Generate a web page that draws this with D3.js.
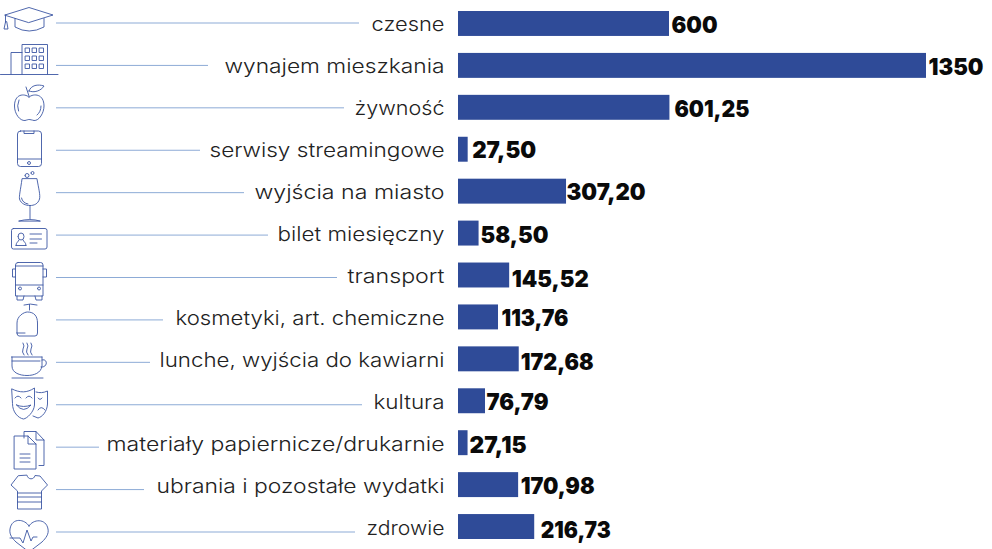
<!DOCTYPE html>
<html>
<head>
<meta charset="utf-8">
<script src="https://cdn.jsdelivr.net/npm/d3@7"></script>
<style>
  html, body { margin: 0; background: #fff; }
  svg { display: block; }
  .label { font-family: Inter, "Noto Sans", sans-serif; font-weight: 300; font-size: 19.5px; fill: #222; }
  .value { font-family: Inter, "Noto Sans", sans-serif; font-weight: 900; font-size: 23px; fill: #0a0a0a; }
  .icon * { fill: none; stroke: #3c57a4; stroke-width: 0.9; stroke-linejoin: round; stroke-linecap: round; }
</style>
</head>
<body>
<svg id="chart" width="992" height="549"></svg>
<script>
const categories = ['czesne', 'wynajem mieszkania', 'żywność', 'serwisy streamingowe', 'wyjścia na miasto',
    'bilet miesięczny', 'transport', 'kosmetyki, art. chemiczne', 'lunche, wyjścia do kawiarni', 'kultura',
    'materiały papiernicze/drukarnie', 'ubrania i pozostałe wydatki', 'zdrowie'];
const values = [600, 1350, 601.25, 27.5, 307.2, 58.5, 145.52, 113.76, 172.68, 76.79, 27.15, 170.98, 216.73];
const valueLabels = ['600', '1350', '601,25', '27,50', '307,20', '58,50', '145,52', '113,76', '172,68', '76,79', '27,15', '170,98', '216,73'];

// the labels in the original were placed by hand, so these are per row
const valueGap = [2.5, 2.5, 5, 4.5, 0.5, 2, 2.5, 3.5, 2, 1.5, 2, 2.5, 6.5];
const valueDy = [1, 1.5, 1.5, 0, 0, 1.5, 3, 1, 3, 1, 2, 1, 3];
const valueWidth = [46, 55, 75, 64, 79, 68, 77, 67, 73, 62, 57, 74, 70];
const labelWidth = [73, 220, 90, 235, 190, 167, 97, 269, 285, 71, 338, 288, 78];
const lineEnd = [359, 208, 344, 200, 244, 268, 337, 163, 150, 362, 99, 144, 355];

const svg = d3.select('#chart');

// piecewise because the bars are not quite proportional in the picture
const x = d3.scaleLinear().domain([0, 600, 1350]).range([458, 669, 926]);
const y = d3.scaleBand().domain(categories).range([11, 539]).paddingInner(0.405);
const rowY = d3.scalePoint().domain(categories).range([23, 532]);

svg.selectAll('rect.bar')
    .data(categories)
    .enter()
    .append('rect')
    .attr('class', 'bar')
    .attr('x', x(0))
    .attr('y', d => y(d))
    .attr('width', (d, i) => x(values[i]) - x(0))
    .attr('height', y.bandwidth())
    .attr('fill', '#2f4b98');

svg.selectAll('text.value')
    .data(categories)
    .enter()
    .append('text')
    .attr('class', 'value')
    .attr('x', (d, i) => x(values[i]) + valueGap[i])
    .attr('y', (d, i) => y(d) + y.bandwidth() / 2 + 8.5 + valueDy[i])
    .attr('textLength', (d, i) => valueWidth[i])
    .attr('lengthAdjust', 'spacingAndGlyphs')
    .text((d, i) => valueLabels[i]);

svg.selectAll('text.label')
    .data(categories)
    .enter()
    .append('text')
    .attr('class', 'label')
    .attr('x', 444.5)
    .attr('y', d => y(d) + y.bandwidth() / 2 + 8)
    .attr('text-anchor', 'end')
    .attr('textLength', (d, i) => labelWidth[i])
    .attr('lengthAdjust', 'spacingAndGlyphs')
    .text(d => d);

svg.selectAll('line.leader')
    .data(categories)
    .enter()
    .append('line')
    .attr('class', 'leader')
    .attr('x1', 56)
    .attr('x2', (d, i) => lineEnd[i])
    .attr('y1', d => rowY(d))
    .attr('y2', d => rowY(d))
    .attr('stroke', '#8dabd6')
    .attr('stroke-width', 1);

// outline icons, one group of paths per row
const icons = [
    ['M5 15L29 7.5L53 15L29 22.5Z', 'M15 18.5V27Q29 35 44 27V18.5', 'M5.5 15V22', 'M5.5 22L4 29H8L6.8 22Z'],
    ['M0.5 74.5H58', 'M22 74V44.5H47.5V74', 'M22 52.5H11V74',
     'M25.5 48h4v4.5h-4z', 'M32.5 48h4v4.5h-4z', 'M39.5 48h4v4.5h-4z',
     'M25.5 56h4v4.5h-4z', 'M32.5 56h4v4.5h-4z', 'M39.5 56h4v4.5h-4z',
     'M25.5 64h4v4.5h-4z', 'M32.5 64h4v4.5h-4z', 'M39.5 64h4v4.5h-4z'],
    ['M29 97C24 93 14.5 94 14.5 106C14.5 114 20 121 25 120.5C27 120 28 119.5 29 119.5C30 119.5 32 120 34 120.5C39 121 44 113 44 106C44 94 34 93 29 97Z',
     'M29 96L26 87', 'M29 91C31 85 38 84 44 86C41 91 34 93 29 91Z', 'M19 100Q16.5 106 18.5 111', 'M41 106Q41 112 37 115'],
    ['M20.5 131H38.5Q41.5 131 41.5 134V163.5Q41.5 166.5 38.5 166.5H20.5Q17.5 166.5 17.5 163.5V134Q17.5 131 20.5 131Z',
     'M24 131V133.5H34V131', 'M17.5 159H41.5', 'M27.5 163a1.5 1.5 0 1 0 3 0a1.5 1.5 0 1 0 -3 0'],
    ['M25 175.5a2 2 0 1 0 4 0a2 2 0 1 0 -4 0', 'M31 173a1.5 1.5 0 1 0 3 0a1.5 1.5 0 1 0 -3 0',
     'M22 179C20.5 190 19 196 19.5 199C21 204 26 205.5 30 205.5C34 205.5 38 204 39.5 199C40.5 195 38.5 188 37 179Z',
     'M21.5 198Q22.5 203 28 204', 'M30 205.5V219', 'M19 221Q30 218 40 221Z'],
    ['M13.5 228.5H45Q47 228.5 47 230.5V247Q47 249 45 249H13.5Q11.5 249 11.5 247V230.5Q11.5 228.5 13.5 228.5Z',
     'M18 236.5a3 3.5 0 1 0 6 0a3 3.5 0 1 0 -6 0', 'M16 245.5C16 242 18.5 242 19 240M26 245.5C26 242 23.5 242 23 240M16 245.5H26',
     'M30 234H41.5', 'M30 239H41.5', 'M30 243H37'],
    ['M18 262.5H40.5Q43 262.5 43 265V296H15.5V265Q15.5 262.5 18 262.5Z', 'M15.5 266H43', 'M15.5 285H43',
     'M15.5 269H12.5V277H15.5', 'M43 269H46.5V277H43',
     'M18.5 288.5a1.5 1.5 0 1 0 3 0a1.5 1.5 0 1 0 -3 0', 'M37.5 288.5a1.5 1.5 0 1 0 3 0a1.5 1.5 0 1 0 -3 0',
     'M17 296V300H23L24 296', 'M35 296L36 300H42V296'],
    ['M24 305Q30 303 37 305', 'M29.5 304.5V310', 'M17 333V323C17 316 24 312 27.5 312C34 312 37.5 316 37.5 323V333Q37.5 336 35 336H19Q17 336 17 333Z',
     'M18 333H25'],
    ['M23 343Q25 346 23 349Q21.5 352 24 355', 'M27 343Q29 346 27 349Q25.5 352 28 355', 'M31 343Q33 346 31 349Q29.5 352 32 355',
     'M11.5 357H42', 'M12 361H40', 'M12 357V366C12 373 20 375.5 27 375.5C34 375.5 41 373 42 366V357',
     'M42 360C48 358 48 368 41 367', 'M12 378H43'],
    ['M12 389C20 393 27 393 34.5 388V405C34 412 27 418.5 23.5 419C18 418 12.5 412 12.5 404Z',
     'M36 392C40 393 43 393 47.5 391V404C47 412 42 417 38 418L33 416',
     'M15 398Q18 394 21 398', 'M26 398Q29 394 32 398', 'M16.5 405Q23.5 414 31 405Q23.5 408 16.5 405Z',
     'M38 398Q40 401 42 398', 'M38 410Q41 405 45 410'],
    ['M24 438V431.5H36L44 440V465.5H39', 'M36 431.5V440H44', 'M14.5 436H28L36 444V469H14.5Z', 'M28 436V444H36',
     'M20 454H30', 'M20 458H30', 'M20 462H30'],
    ['M27 475.5C28 480 34 480 35 475.5L40 476L47.5 485L41.5 491V509H17.5V491L11 485L18 476Z',
     'M17.5 493H41.5', 'M17.5 497H41.5', 'M17.5 502H41.5'],
    ['M29 526C25 519 12 517 10 529C9 535 13 539 16 542L29 552L42 542C46 538 49 534 48 529C46 518 33 519 29 526Z',
     'M10 538H20L23 543L27 530L31 541L33 537H37']
];

const iconGroups = svg.selectAll('g.icon')
    .data(icons)
    .enter()
    .append('g')
    .attr('class', 'icon');

iconGroups.selectAll('path')
    .data(d => d)
    .enter()
    .append('path')
    .attr('d', d => d);
</script>
</body>
</html>
